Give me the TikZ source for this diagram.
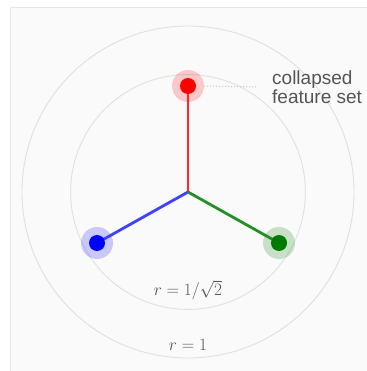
\documentclass[tikz,border=0pt]{standalone}
\usepackage{amsmath,amssymb}
\usepackage{fontspec}
\setsansfont{Liberation Sans}
\usetikzlibrary{calc,positioning}
\definecolor{panel}{HTML}{FAFAFA}
\definecolor{panelrule}{HTML}{E6E6E6}
\definecolor{ring}{HTML}{E0E0E0}
\definecolor{leader}{HTML}{C4C4C4}
\definecolor{labelgray}{HTML}{555555}
\definecolor{ptgreen}{HTML}{007A00}

\begin{document}
\begin{tikzpicture}[x=1pt, y=-1pt,
  halo/.style={circle, minimum size=32pt, inner sep=0pt, fill=#1, fill opacity=0.2},
  dot/.style={circle, minimum size=16pt, inner sep=0pt, fill=#1},
  spoke/.style={line width=2.8pt, #1},
  ring/.style={draw=ring, line width=0.9pt},
  lbl/.style={text=labelgray, font=\fontsize{18}{19}\selectfont, inner sep=0pt}]
\useasboundingbox (0,0) rectangle (366,371);
% panel
\fill[white] (0,0) rectangle (366,371);
\fill[panel] (10,7) rectangle (380,385);
\draw[panelrule, line width=0.8pt] (380,7) -- (10,7) -- (10,385);
% rings
\coordinate (o) at (188,192);
\draw[ring] (o) circle[radius=166];
\draw[ring] (o) circle[radius=117.4];
% feature points
\node[halo=red] (hr) at (188,86) {};
\node[halo=blue] (hb) at (97,243) {};
\node[halo=ptgreen] (hg) at (279,243) {};
\draw[spoke=red!85] (o) -- (hr.center);
\draw[spoke=blue!75] (o) -- (hb.center);
\draw[spoke=ptgreen!85] (o) -- (hg.center);
\node[dot=red] (pr) at (hr) {};
\node[dot=blue] (pb) at (hb) {};
\node[dot=ptgreen] (pg) at (hg) {};
% annotation
\coordinate (lead) at (257,87);
\draw[leader, line width=1pt, dotted] (hr.east) -- (lead);
\node[lbl, font=\sffamily\fontsize{19}{19}\selectfont, align=left, anchor=north west]
  (feat) at (272,71) {collapsed\\feature set};
\node[lbl] (rin) at (188,290) {$r=1/\sqrt{2}$};
\node[lbl] (rout) at (188,345) {$r=1$};
\end{tikzpicture}
\end{document}
